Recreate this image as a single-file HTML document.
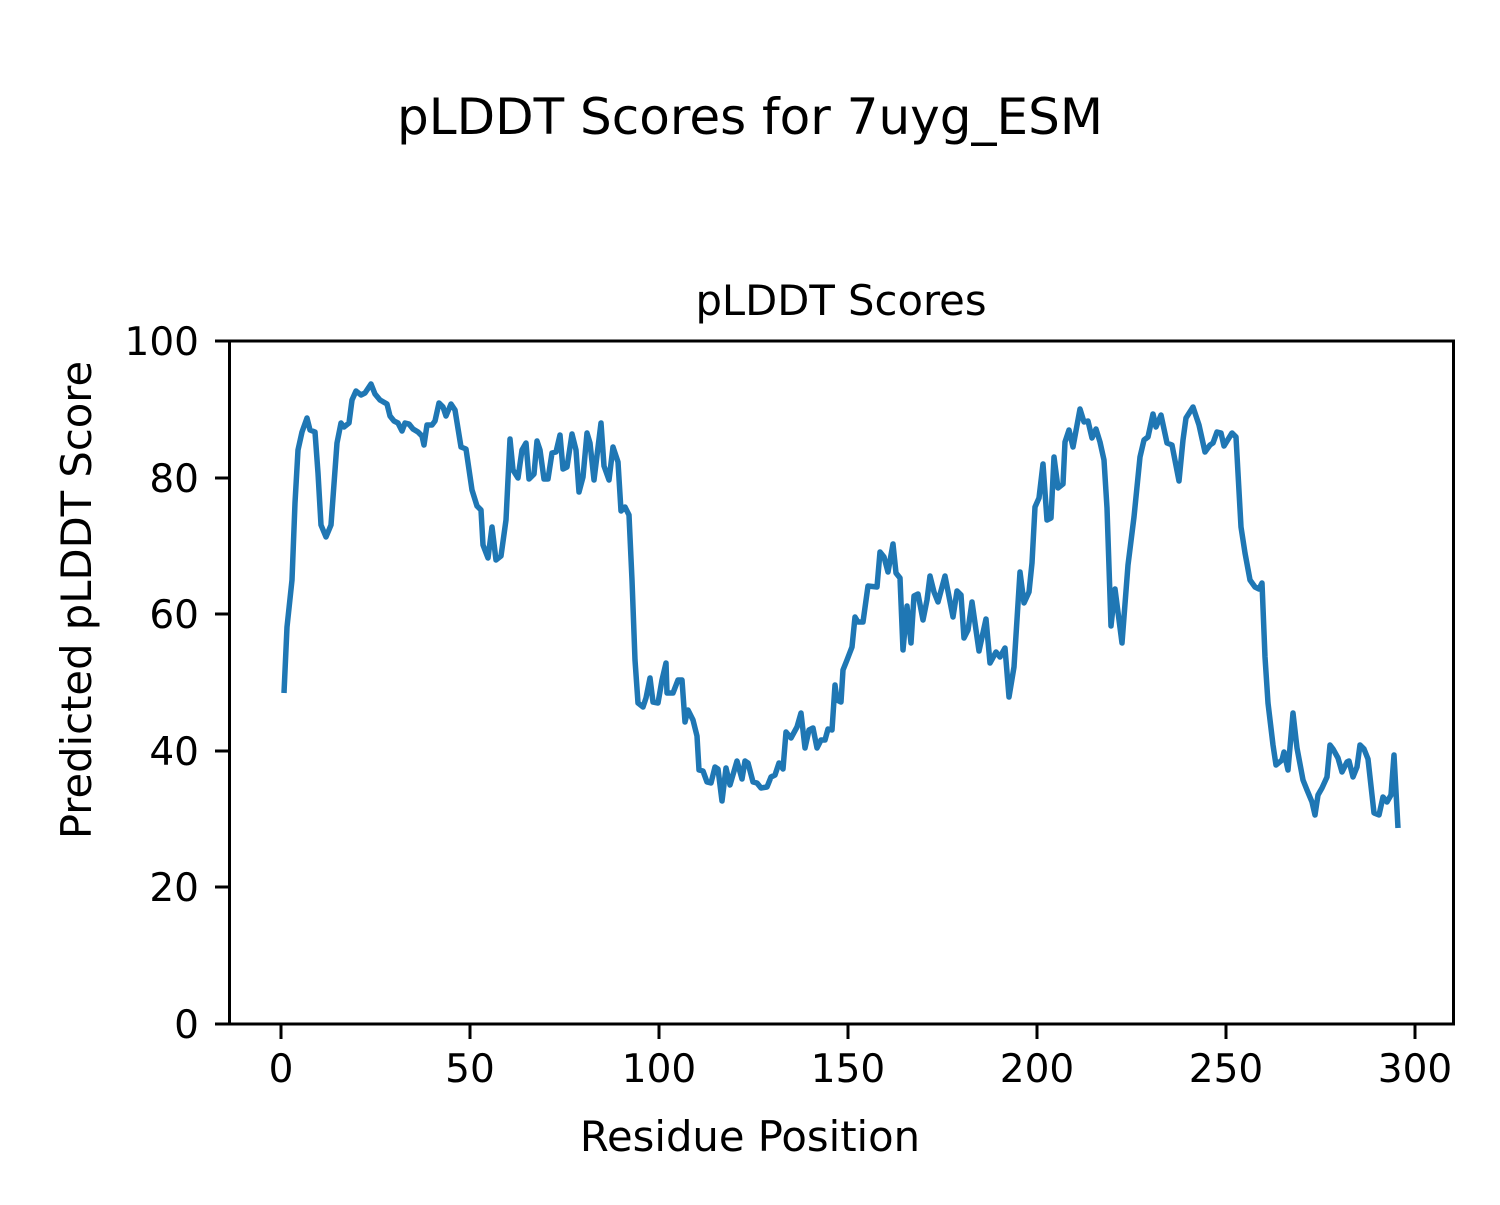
<!DOCTYPE html>
<html><head><meta charset="utf-8"><style>html,body{margin:0;padding:0;background:#fff}</style></head>
<body>
<svg width="1500" height="1200" viewBox="0 0 1500 1200" xmlns="http://www.w3.org/2000/svg" font-family="DejaVu Sans, Liberation Sans, sans-serif">
<rect width="1500" height="1200" fill="#fff"/>
<text x="750" y="134" font-size="50" text-anchor="middle">pLDDT Scores for 7uyg_ESM</text>
<text x="841" y="315" font-size="41.7" text-anchor="middle">pLDDT Scores</text>
<polyline fill="none" stroke="#1f77b4" stroke-width="5.5" stroke-linejoin="round" points="
284,693 287,627 292,580 295,503 298,450 302,432 307,418 310,430 315,432 318,473 321,525 326,537 331,525 337,443 341,423 344,427 349,423 352,400 356,391 361,395 365,393 371,384 375,394 380,400 387,404 390,416 394,421 398,423 402,431 405,423 409,424 413,429 418,432 422,436 424,445 427,425 432,425 435,421 439,403 443,407 446,416 451,404 455,410 461,447 466,449 472,490 477,506 481,510 483,545 488,558 492,527 496,560 501,556 506,520 510,439 513,470 518,478 522,450 526,443 529,479 534,474 537,441 540,450 544,479 548,479 552,453 556,452 560,435 563,469 567,467 572,434 576,450 579,492 583,477 587,433 590,443 594,480 601,423 604,466 609,480 613,447 618,462 621,511 625,507 629,515 632,580 635,660 638,703 643,707 646,698 650,678 653,702 658,703 662,680 666,663 667,693 673,693 678,680 682,680 685,722 688,710 693,720 697,736 699,770 703,771 707,782 711,783 715,767 718,769 722,801 726,768 730,785 737,761 742,779 745,761 748,763 753,782 757,783 761,788 767,787 771,777 775,775 779,763 783,769 786,732 791,738 797,727 801,713 805,748 809,730 813,728 817,748 821,740 825,740 828,729 832,730 835,685 837,700 841,702 843,670 847,660 852,647 855,617 858,622 863,622 868,586 877,587 880,552 884,557 888,572 893,544 896,573 900,578 903,650 907,606 911,643 914,596 918,594 923,620 927,600 930,576 934,592 938,602 945,576 953,617 957,591 961,595 964,638 968,630 972,602 979,651 986,619 990,663 996,652 1000,657 1005,648 1009,697 1014,667 1020,572 1024,603 1029,592 1032,563 1035,507 1039,498 1043,464 1047,520 1051,518 1054,457 1058,488 1063,484 1065,442 1069,430 1073,447 1080,409 1084,422 1088,421 1092,438 1096,429 1100,442 1104,460 1107,508 1111,626 1115,589 1122,643 1128,565 1134,517 1140,457 1144,440 1148,437 1153,414 1156,427 1161,415 1167,443 1172,445 1179,481 1183,440 1186,418 1193,407 1199,425 1205,452 1210,445 1213,443 1217,432 1221,433 1224,446 1232,433 1236,437 1241,527 1245,553 1250,580 1255,587 1259,589 1262,583 1265,657 1268,703 1273,745 1276,765 1282,760 1284,752 1288,770 1293,713 1297,748 1303,780 1307,790 1312,802 1315,815 1318,795 1322,788 1327,777 1330,745 1333,749 1338,758 1342,772 1347,762 1349,761 1353,777 1357,767 1360,745 1364,749 1368,759 1374,813 1379,815 1383,797 1387,802 1391,795 1394,755 1398,828"/>
<rect x="229.5" y="341" width="1224" height="683" fill="none" stroke="#000" stroke-width="3"/>
<g stroke="#000" stroke-width="3">
<line x1="281" y1="1024" x2="281" y2="1039"/><line x1="470" y1="1024" x2="470" y2="1039"/><line x1="659" y1="1024" x2="659" y2="1039"/><line x1="848" y1="1024" x2="848" y2="1039"/><line x1="1037" y1="1024" x2="1037" y2="1039"/><line x1="1226" y1="1024" x2="1226" y2="1039"/><line x1="1415" y1="1024" x2="1415" y2="1039"/>
<line x1="215" y1="1024" x2="230" y2="1024"/><line x1="215" y1="887" x2="230" y2="887"/><line x1="215" y1="751" x2="230" y2="751"/><line x1="215" y1="614" x2="230" y2="614"/><line x1="215" y1="478" x2="230" y2="478"/><line x1="215" y1="341" x2="230" y2="341"/>
</g>
<g font-size="39" text-anchor="middle">
<text x="281" y="1082">0</text><text x="470" y="1082">50</text><text x="659" y="1082">100</text><text x="848" y="1082">150</text><text x="1037" y="1082">200</text><text x="1226" y="1082">250</text><text x="1415" y="1082">300</text>
</g>
<g font-size="39" text-anchor="end">
<text x="199" y="1038">0</text><text x="199" y="901">20</text><text x="199" y="765">40</text><text x="199" y="628">60</text><text x="199" y="492">80</text><text x="199" y="355">100</text>
</g>
<text x="750" y="1151" font-size="41.7" text-anchor="middle">Residue Position</text>
<text transform="translate(91,600) rotate(-90)" font-size="41.7" text-anchor="middle">Predicted pLDDT Score</text>
</svg>
</body></html>
